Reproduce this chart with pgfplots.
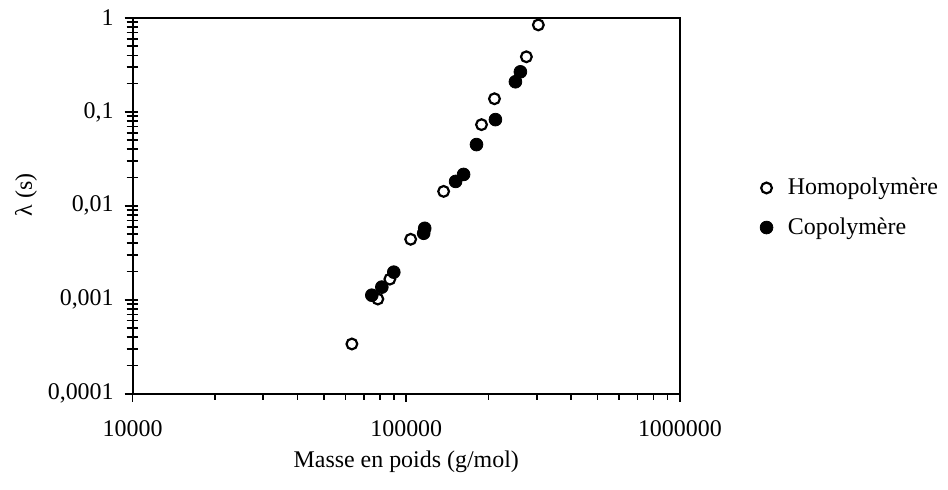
\documentclass[border=0pt]{standalone}
\usepackage{fontspec}
\setmainfont{Liberation Serif}
\usepackage{pgfplots}
\pgfplotsset{compat=1.18}
\begin{document}
\begin{tikzpicture}
% overlay axis: inside ticks on the y axis
\begin{axis}[
  xmode=log, ymode=log,
  scale only axis, width=274.5pt, height=188.5pt,
  xmin=1e4, xmax=1e6, ymin=1e-4, ymax=1,
  axis line style={draw=none},
  xtick=\empty,
  ytick={1e-4,2e-4,3e-4,4e-4,5e-4,6e-4,7e-4,8e-4,9e-4,1e-3,2e-3,3e-3,4e-3,5e-3,6e-3,7e-3,8e-3,9e-3,1e-2,2e-2,3e-2,4e-2,5e-2,6e-2,7e-2,8e-2,9e-2,0.1,0.2,0.3,0.4,0.5,0.6,0.7,0.8,0.9,1},
  yticklabels={},
  ytick pos=left, tick align=inside, major tick length=2.8pt,
  tick style={line width=0.8pt, black},
]
\end{axis}
\begin{axis}[
  name=ax,
  xmode=log, ymode=log,
  scale only axis, width=274.5pt, height=188.5pt,
  xmin=1e4, xmax=1e6, ymin=1e-4, ymax=1,
  xtick={1e4,1e5,1e6}, xticklabels={10000,100000,1000000},
  ytick={1e-4,1e-3,1e-2,1e-1,1}, yticklabels={{0,0001},{0,001},{0,01},{0,1},1},
  minor xtick={2e4,3e4,4e4,5e4,6e4,7e4,8e4,9e4,2e5,3e5,4e5,5e5,6e5,7e5,8e5,9e5},
  xtick pos=left, ytick pos=left,
  tick align=outside, major tick length=4pt, minor tick length=3pt,
  tick style={line width=0.8pt, black},
  axis line style={line width=1pt},
  every tick label/.append style={font=\fontsize{12}{14}\selectfont},
  xticklabel style={yshift=-6pt},
  yticklabel style={xshift=-2pt},
  label style={font=\fontsize{12}{14}\selectfont},
  xlabel={Masse en poids (g/mol)},
  ylabel={λ (s)},
  xlabel style={at={(axis description cs:0.5,0)}, anchor=center, yshift=-34pt},
  ylabel style={at={([xshift=-53.5pt]axis description cs:0,0.53)}, anchor=center},
  legend style={draw=none, at={(1.135,0.495)}, anchor=west, font=\fontsize{12}{14}\selectfont, row sep=6pt,
    /tikz/every odd column/.append style={column sep=5.5pt}},
  legend cell align=left,
]
\addplot[only marks, mark=o, mark size=2.7pt, mark options={line width=1.1pt, black}] coordinates {
  (63300,3.39e-4) (78750,1.02e-3) (87100,1.66e-3) (103800,4.41e-3)
  (136950,0.01426) (188400,0.0732) (210100,0.138) (274800,0.386) (303900,0.843)
};
\addlegendentry{Homopolymère}
\addplot[only marks, mark=*, mark size=3.2pt, mark options={black, fill=black}] coordinates {
  (74860,1.12e-3) (81430,1.366e-3) (90050,1.97e-3) (116800,5.77e-3) (115800,5.11e-3)
  (151500,0.0182) (162000,0.0216) (180600,0.0449) (211800,0.0828) (250600,0.2094) (261300,0.267)
};
\addlegendentry{Copolymère}
\end{axis}
\path ([shift={(-66.5pt,-48pt)}]ax.south west) rectangle ([shift={(133pt,9pt)}]ax.north east);
\end{tikzpicture}
\end{document}
